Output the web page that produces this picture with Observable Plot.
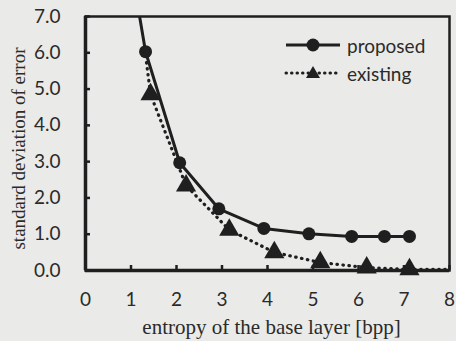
<!DOCTYPE html>
<html><head><meta charset="utf-8">
<script src="https://cdn.jsdelivr.net/npm/d3@7"></script>
<script src="https://cdn.jsdelivr.net/npm/@observablehq/plot@0.6"></script>
<style>
html,body{margin:0;padding:0;background:#eaeae8;}
#wrap{position:relative;width:456px;height:341px;overflow:hidden;}
.leg{position:absolute;left:284px;height:24px;display:flex;align-items:center;font-family:Lato,sans-serif;font-size:19px;color:#2a2a2a;}
.leg svg{margin-right:5px;}
</style></head><body><div id="wrap"></div>
<script>
const xTicks = [0,1,2,3,4,5,6,7,8];
const yTicks = [0,1,2,3,4,5,6,7];
const xLabel = "entropy of the base layer [bpp]";
const yLabel = "standard deviation of error";
const seriesNames = ["proposed","existing"];

const proposedX = [1.32, 2.07, 2.93, 3.92, 4.91, 5.85, 6.57, 7.12];
const proposedY = [6.03, 2.97, 1.70, 1.16, 1.01, 0.94, 0.94, 0.94];
const proposedLeadX = [1.0];
const proposedLeadY = [8.4];

const existingX = [1.43, 2.21, 3.16, 4.15, 5.16, 6.18, 7.12];
const existingY = [4.85, 2.34, 1.12, 0.50, 0.22, 0.08, 0.03];
const existingLeadX = [1.34];
const existingLeadY = [5.73];
const existingTailX = [8.3];
const existingTailY = [0.03];

const ink = "#1f1f1f";
const proposed = proposedX.map((x,i)=>({x, y: proposedY[i]}));
const proposedLine = proposedLeadX.map((x,i)=>({x, y: proposedLeadY[i]})).concat(proposed);
const existing = existingX.map((x,i)=>({x, y: existingY[i]}));
const existingLine = existingLeadX.map((x,i)=>({x, y: existingLeadY[i]}))
  .concat(existing, existingTailX.map((x,i)=>({x, y: existingTailY[i]})));

const plot = Plot.plot({
  width: 456, height: 341,
  marginLeft: 85, marginRight: 7, marginTop: 16, marginBottom: 71,
  style: {background: "transparent", fontFamily: "Lato, sans-serif", fontSize: "19px", color: "#2a2a2a"},
  x: {domain: [0, 8]},
  y: {domain: [0, 7]},
  marks: [
    Plot.axisY({ticks: yTicks, tickFormat: d => d.toFixed(1), tickSize: -5, tickPadding: 30, label: null, stroke: ink, strokeWidth: 2.5}),
    Plot.axisX({ticks: xTicks, tickFormat: d => String(d), tickSize: -5, tickPadding: 27, label: null, stroke: ink, strokeWidth: 2.5}),
    Plot.line(existingLine, {x: "x", y: "y", stroke: ink, strokeWidth: 3.2, strokeDasharray: "0.5 5.5", strokeLinecap: "round", clip: true}),
    Plot.line(proposedLine, {x: "x", y: "y", stroke: ink, strokeWidth: 3, clip: true}),
    Plot.dot(proposed, {x: "x", y: "y", r: 6.5, fill: ink, symbol: "circle"}),
    Plot.dot(existing, {x: "x", y: "y", r: 7.5, fill: ink, symbol: "triangle"}),
    Plot.frame({stroke: ink, strokeWidth: 2.5}),
    Plot.ruleX([0], {stroke: ink, strokeWidth: 3.5}),
    Plot.ruleY([0], {stroke: ink, strokeWidth: 3.5}),
    Plot.text([yLabel], {text: d => d, frameAnchor: "left", textAnchor: "middle", lineAnchor: "middle", rotate: -90, dx: -67, dy: 5, fontFamily: "Liberation Serif, serif", fontSize: 19, fill: "#2a2a2a"}),
    Plot.text([xLabel], {text: d => d, frameAnchor: "bottom", textAnchor: "middle", lineAnchor: "middle", dx: 4, dy: 57, fontFamily: "Liberation Serif, serif", fontSize: 21, fill: "#2a2a2a"})
  ]
});
const wrap = document.getElementById("wrap");
wrap.appendChild(plot);

const legendRows = [
  {name: seriesNames[0], top: 33, dash: null, sym: "circle"},
  {name: seriesNames[1], top: 61, dash: "0.5 5", sym: "triangle"}
];
for (const r of legendRows) {
  const div = document.createElement("div");
  div.className = "leg";
  div.style.top = r.top + "px";
  const symbol = r.sym === "circle"
    ? `<circle cx="29" cy="12" r="6.5" fill="${ink}"/>`
    : `<path d="M29,5 L36,17 L22,17 Z" fill="${ink}"/>`;
  div.innerHTML = `<svg width="58" height="24"><line x1="2" x2="56" y1="12" y2="12" stroke="${ink}" stroke-width="3" ${r.dash ? `stroke-dasharray="${r.dash}" stroke-linecap="round"` : ""}/>${symbol}</svg><span>${r.name}</span>`;
  wrap.appendChild(div);
}
</script>
</body></html>
